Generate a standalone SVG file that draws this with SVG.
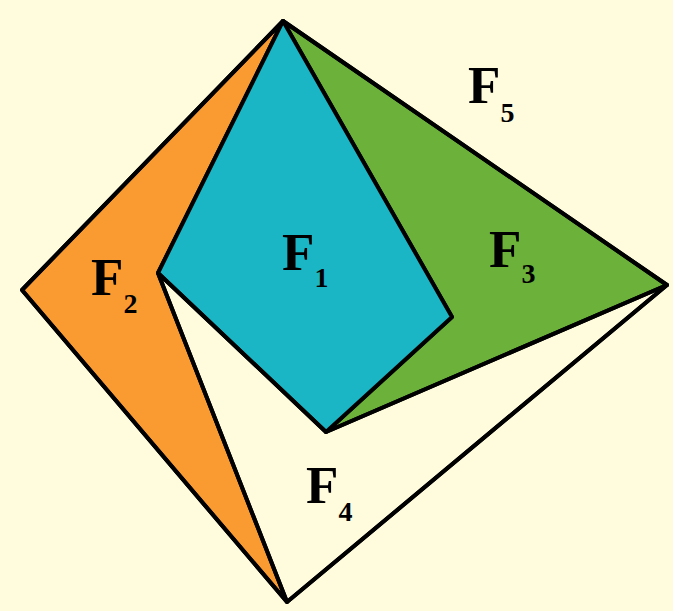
<svg xmlns="http://www.w3.org/2000/svg" width="673" height="611" viewBox="0 0 673 611">
<style>
.e{stroke:#000;stroke-width:4;stroke-linejoin:round;stroke-linecap:round}
.t{font-family:"Liberation Serif","Times New Roman",serif;font-weight:bold;fill:#000}
.m{font-size:53px}
.s{font-size:28px}
</style>
<rect width="673" height="611" fill="#FFFBDD"/>
<g id="F2"><polygon class="e" points="283,21 22,290 287,602 158,273" fill="#F99B30"/></g>
<g id="F3"><polygon class="e" points="283,21 667,285 326,432 452,317" fill="#6BB13A"/></g>
<g id="F1"><polygon class="e" points="283,21 158,273 326,432 452,317" fill="#1BB6C5"/></g>
<g id="F4"><polygon class="e" points="158,273 326,432 667,285 287,602" fill="none"/></g>
<g id="connectors"><polygon class="e" points="283,21 22,290 287,602 667,285" fill="none"/></g>
<g id="labels">
<text class="t" x="282" y="270"><tspan class="m">F</tspan><tspan class="s" dy="17">1</tspan></text>
<text class="t" x="91" y="295"><tspan class="m">F</tspan><tspan class="s" dy="18">2</tspan></text>
<text class="t" x="489" y="267"><tspan class="m">F</tspan><tspan class="s" dy="16">3</tspan></text>
<text class="t" x="306" y="503"><tspan class="m">F</tspan><tspan class="s" dy="18">4</tspan></text>
<text class="t" x="468" y="103"><tspan class="m">F</tspan><tspan class="s" dy="19">5</tspan></text>
</g>
</svg>
